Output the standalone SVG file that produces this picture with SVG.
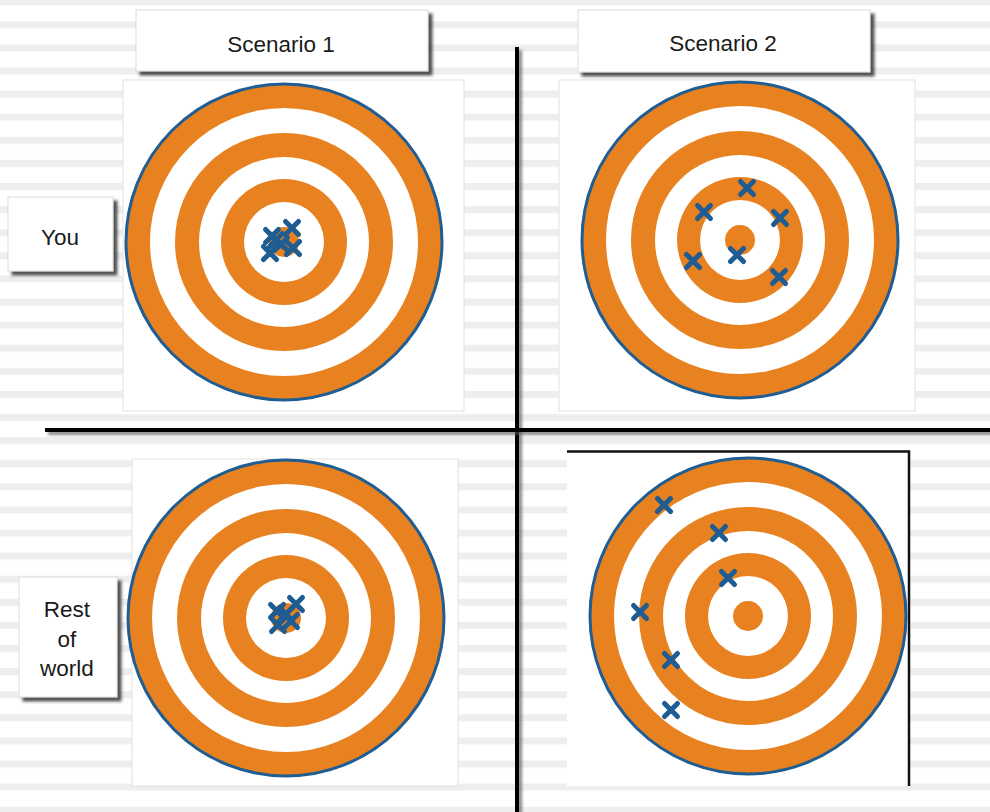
<svg xmlns="http://www.w3.org/2000/svg" xmlns:xlink="http://www.w3.org/1999/xlink" width="990" height="812" viewBox="0 0 990 812">
<style>
.lbl{fill:#fff;stroke:#dcdcdc;stroke-width:1;filter:url(#sh)}
.txt{font-family:"Liberation Sans",Arial,sans-serif;font-size:22.5px;fill:#1a1a1a;text-anchor:middle}
.panel{fill:#fff;stroke:#e2e2e2;stroke-width:1}
.or{fill:#E8811F}
.wh{fill:#fff}
.x{fill:none;stroke:#1E5C92;stroke-width:5;stroke-linecap:round}
.div{fill:#000;filter:url(#lsh)}
</style>
<defs>
<pattern id="stripes" patternUnits="userSpaceOnUse" x="0" y="-1.8" width="990" height="23.1">
<rect x="0" y="0" width="990" height="23.1" fill="#fff"/>
<rect x="0" y="0" width="990" height="7" fill="#eeeeee"/>
</pattern>
<filter id="sh" x="-10%" y="-20%" width="130%" height="150%">
<feDropShadow dx="4" dy="4" stdDeviation="1.5" flood-color="#333" flood-opacity="0.85"/>
</filter>
<filter id="lsh" filterUnits="userSpaceOnUse" x="0" y="0" width="990" height="812">
<feDropShadow dx="3" dy="3" stdDeviation="1.5" flood-color="#555" flood-opacity="0.7"/>
</filter>
<g id="target">
<circle r="158" class="or" stroke="#1F5D93" stroke-width="3"/>
<circle r="134" class="wh"/>
<circle r="109" class="or"/>
<circle r="85" class="wh"/>
<circle r="63" class="or"/>
<circle r="40" class="wh"/>
<circle r="15" class="or"/>
</g>
<path id="xm" class="x" d="M-6.5,-6.5L6.5,6.5M6.5,-6.5L-6.5,6.5"/>
</defs>
<rect width="990" height="812" fill="url(#stripes)"/>

<g id="panel-tl">
<rect class="panel" x="123" y="80" width="341" height="331"/>
<use xlink:href="#target" x="284" y="242"/>
<use xlink:href="#xm" x="272" y="236"/>
<use xlink:href="#xm" x="292" y="228"/>
<use xlink:href="#xm" x="270" y="253"/>
<use xlink:href="#xm" x="293" y="248"/>
<use xlink:href="#xm" x="281" y="244"/>
<use xlink:href="#xm" x="276" y="240"/>
</g>

<g id="panel-tr">
<rect class="panel" x="559" y="80" width="356" height="331"/>
<use xlink:href="#target" x="740" y="240"/>
<use xlink:href="#xm" x="747" y="188"/>
<use xlink:href="#xm" x="704" y="212"/>
<use xlink:href="#xm" x="780" y="218"/>
<use xlink:href="#xm" x="693" y="261"/>
<use xlink:href="#xm" x="737" y="255"/>
<use xlink:href="#xm" x="779" y="277"/>
</g>

<g id="panel-bl">
<rect class="panel" x="132" y="459" width="326" height="327"/>
<use xlink:href="#target" x="286" y="618"/>
<use xlink:href="#xm" x="277" y="611"/>
<use xlink:href="#xm" x="296" y="604"/>
<use xlink:href="#xm" x="278" y="625"/>
<use xlink:href="#xm" x="291" y="621"/>
<use xlink:href="#xm" x="286" y="614"/>
</g>

<g id="panel-br">
<rect x="567" y="450" width="342" height="336" fill="#fff"/>
<path d="M567,451.5H909V786" fill="none" stroke="#111" stroke-width="2.5"/>
<use xlink:href="#target" x="748" y="616"/>
<use xlink:href="#xm" x="664" y="505"/>
<use xlink:href="#xm" x="719" y="533"/>
<use xlink:href="#xm" x="728" y="578"/>
<use xlink:href="#xm" x="640" y="612"/>
<use xlink:href="#xm" x="671" y="660"/>
<use xlink:href="#xm" x="671" y="710"/>
</g>

<g id="dividers">
<rect class="div" x="515" y="47" width="4" height="770"/>
<rect class="div" x="45" y="428" width="950" height="4"/>
</g>

<g id="label-scenario1">
<rect class="lbl" x="136" y="10" width="292" height="61"/>
<text class="txt" x="281" y="52">Scenario 1</text>
</g>
<g id="label-scenario2">
<rect class="lbl" x="578" y="10" width="292" height="62"/>
<text class="txt" x="723" y="51">Scenario 2</text>
</g>
<g id="label-you">
<rect class="lbl" x="8" y="197" width="105" height="74"/>
<text class="txt" x="60" y="245">You</text>
</g>
<g id="label-rest">
<rect class="lbl" x="19" y="577" width="98" height="120"/>
<text class="txt" x="67" y="617">Rest</text>
<text class="txt" x="67" y="647">of</text>
<text class="txt" x="67" y="676">world</text>
</g>
</svg>
